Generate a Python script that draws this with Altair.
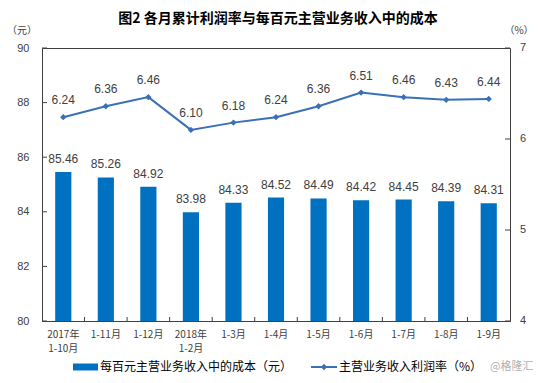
import altair as alt
import pandas as pd

categories = ["2017年\n1-10月", "1-11月", "1-12月", "2018年\n1-2月", "1-3月", "1-4月",
              "1-5月", "1-6月", "1-7月", "1-8月", "1-9月"]
cost_values = [85.46, 85.26, 84.92, 83.98, 84.33, 84.52, 84.49, 84.42, 84.45, 84.39, 84.31]
profit_rate = [6.24, 6.36, 6.46, 6.10, 6.18, 6.24, 6.36, 6.51, 6.46, 6.43, 6.44]
left_ticks = [80, 82, 84, 86, 88, 90]
right_ticks = [4, 5, 6, 7]

df = pd.DataFrame({"cat": categories, "cost": cost_values, "rate": profit_rate,
                   "cost_lbl": [f"{v:.2f}" for v in cost_values],
                   "rate_lbl": [f"{v:.2f}" for v in profit_rate]})
df_lt = pd.DataFrame({"v": left_ticks})
df_rt = pd.DataFrame({"r": right_ticks})
df_xt = pd.DataFrame({"cat": categories[1:]})
one = pd.DataFrame({"k": [0]})

W, H = 468, 273
BAR = "#0070C0"
LINE = "#3A70B8"
TXT = "#404040"
FONT = "Liberation Sans"
CJK = "Noto Sans CJK SC"

# the right axis (4..7 %) is mapped onto the left scale (80..90) by a data transform
RATE_TO_LEFT = "80 + (datum.{f} - 4) * 10 / 3"

xscale = alt.Scale(domain=categories, paddingInner=0, paddingOuter=0)
x_axis = alt.Axis(title=None, labelAngle=0, ticks=False, labelPadding=8,
                  labelExpr="split(datum.label, '\\n')", labelFont=CJK,
                  labelFontSize=10, labelColor=TXT, labelLineHeight=14,
                  domainColor=TXT, labelOverlap=False)
x_enc = alt.X("cat:N", scale=xscale, axis=x_axis, sort=categories)
yscale = alt.Scale(domain=[80, 90], nice=False, zero=False)
y_axis = alt.Axis(values=left_ticks, title=None, grid=False, ticks=False,
                  labelPadding=13, labelFont=FONT, labelFontSize=11,
                  labelColor=TXT, domainColor=TXT)

bars = alt.Chart(df).mark_bar(color=BAR, width={"band": 0.38}, clip=True).encode(
    x=x_enc, y=alt.Y("cost:Q", scale=yscale, axis=y_axis), y2=alt.datum(80))
bar_lbl = alt.Chart(df).mark_text(font=FONT, fontSize=12, color=TXT, dy=-13).encode(
    x=x_enc, y=alt.Y("cost:Q", scale=yscale, axis=y_axis), text="cost_lbl:N")
lticks = alt.Chart(df_lt).mark_rule(color=TXT).encode(
    y=alt.Y("v:Q", scale=yscale, axis=y_axis), x=alt.value(0), x2=alt.value(5))
xticks = alt.Chart(df_xt).mark_rule(color=TXT).encode(
    x=alt.X("cat:N", scale=xscale, axis=x_axis, sort=categories, bandPosition=0),
    y=alt.value(H - 4), y2=alt.value(H))

line = alt.Chart(df).transform_calculate(ry=RATE_TO_LEFT.format(f="rate")).mark_line(
    color=LINE, strokeWidth=2,
    point=alt.OverlayMarkDef(shape="diamond", size=40, color=LINE, filled=True)).encode(
    x=x_enc, y=alt.Y("ry:Q", scale=yscale, axis=y_axis))
line_lbl = alt.Chart(df).transform_calculate(ry=RATE_TO_LEFT.format(f="rate")).mark_text(
    font=FONT, fontSize=12, color=TXT, dy=-17).encode(
    x=x_enc, y=alt.Y("ry:Q", scale=yscale, axis=y_axis), text="rate_lbl:N")
rticks = alt.Chart(df_rt).transform_calculate(ry=RATE_TO_LEFT.format(f="r")).mark_rule(color=TXT).encode(
    y=alt.Y("ry:Q", scale=yscale, axis=y_axis), x=alt.value(W - 5), x2=alt.value(W))
rlabels = alt.Chart(df_rt).transform_calculate(ry=RATE_TO_LEFT.format(f="r")).mark_text(
    font=FONT, fontSize=11, color=TXT, align="left", baseline="middle").encode(
    y=alt.Y("ry:Q", scale=yscale, axis=y_axis), x=alt.value(W + 10), text="r:N")

# title and axis unit labels
title = alt.Chart(one).mark_text(font=CJK, fontSize=14, fontWeight="bold", color="#000000").encode(
    x=alt.value(236), y=alt.value(-29), text=alt.value("图2 各月累计利润率与每百元主营业务收入中的成本"))
unit_l = alt.Chart(one).mark_text(font=CJK, fontSize=10, color=TXT).encode(
    x=alt.value(-20), y=alt.value(-17), text=alt.value("（元）"))
unit_r = alt.Chart(one).mark_text(font=CJK, fontSize=10, color=TXT).encode(
    x=alt.value(W + 9), y=alt.value(-17), text=alt.value("（%）"))

# legend (manual)
leg_y = 319
leg_rect = alt.Chart(one).mark_rect(color=BAR).encode(
    x=alt.value(31), x2=alt.value(56), y=alt.value(leg_y - 3.5), y2=alt.value(leg_y + 3.5))
leg_txt1 = alt.Chart(one).mark_text(font=CJK, fontSize=12, color="#000000",
                                    align="left", baseline="middle").encode(
    x=alt.value(58), y=alt.value(leg_y), text=alt.value("每百元主营业务收入中的成本（元）"))
leg_line = alt.Chart(one).mark_rule(color=LINE, strokeWidth=2).encode(
    x=alt.value(269), x2=alt.value(295), y=alt.value(leg_y))
leg_pt = alt.Chart(one).mark_point(shape="diamond", size=40, color=LINE, filled=True, opacity=1).encode(
    x=alt.value(282), y=alt.value(leg_y))
leg_txt2 = alt.Chart(one).mark_text(font=CJK, fontSize=12, color="#000000",
                                    align="left", baseline="middle").encode(
    x=alt.value(297), y=alt.value(leg_y), text=alt.value("主营业务收入利润率（%）"))
wm = alt.Chart(one).mark_text(font=CJK, fontSize=11, color="#B0B0B0",
                              align="left", baseline="middle").encode(
    x=alt.value(448), y=alt.value(leg_y), text=alt.value("@格隆汇"))

chart = alt.layer(bars, bar_lbl, lticks, xticks, line, line_lbl, rticks, rlabels,
                  title, unit_l, unit_r, leg_rect, leg_txt1, leg_line, leg_pt, leg_txt2, wm).properties(
    width=W, height=H,
    autosize=alt.AutoSizeParams(type="none"),
    padding={"left": 34, "top": 40, "right": 24, "bottom": 54},
).configure_view(stroke=TXT, strokeWidth=1)

chart.save("out.html", embed_options={"renderer": "svg", "actions": False})
